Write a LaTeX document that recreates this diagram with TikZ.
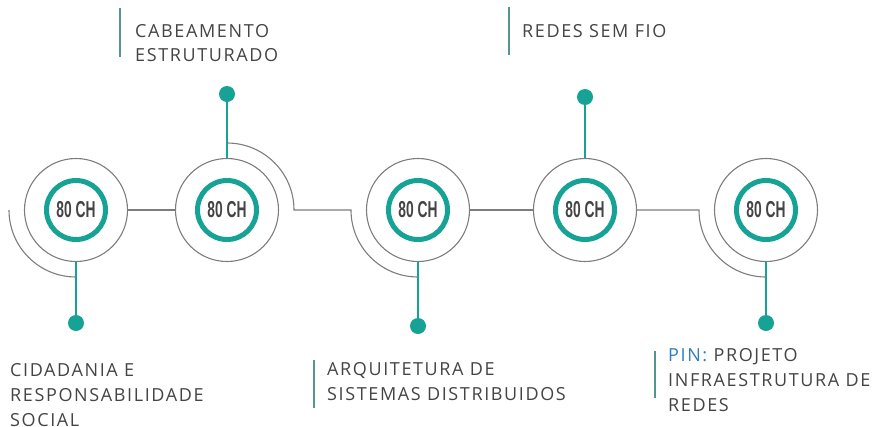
\documentclass[tikz,border=0pt]{standalone}
\usepackage{fontspec}
\setmainfont[LetterSpace=9]{Open Sans}
\newfontfamily\chfont[FakeStretch=0.6]{Liberation Sans}
\usetikzlibrary{calc}
\definecolor{ringteal}{RGB}{22,163,150}
\definecolor{barteal}{RGB}{84,150,142}
\definecolor{linegray}{RGB}{125,125,125}
\definecolor{textgray}{RGB}{68,68,68}
\definecolor{pinblue}{RGB}{46,125,195}

\begin{document}
\begin{tikzpicture}[x=1pt,y=1pt,
    outer/.style={circle,draw=linegray,line width=1.1pt,minimum size=103pt,inner sep=0pt},
    ring/.style={circle,draw=ringteal,line width=5pt,minimum size=59pt,inner sep=0pt,
      text=textgray,font=\chfont\bfseries\fontsize{23}{23}\selectfont},
    dot/.style={circle,fill=ringteal,minimum size=16pt,inner sep=0pt},
    stem/.style={ringteal,line width=2.4pt},
    link/.style={linegray,line width=1.1pt},
    bar/.style={barteal,line width=2.5pt},
    coursetext/.style={anchor=base west,align=left,inner sep=0pt,text=textgray,
      font=\fontsize{18}{24.8}\selectfont}]
  \useasboundingbox (0,0) rectangle (878,-426);
  % circles
  \foreach \i/\x in {1/76,2/227,3/418,4/585,5/766}{
    \node[outer] (c\i) at (\x,-210) {};
    \node[ring] (r\i) at (c\i) {80 CH};
  }
  % dots
  \node[dot] (d1) at (76,-323) {};
  \node[dot] (d2) at (227,-94) {};
  \node[dot] (d3) at (418,-326) {};
  \node[dot] (d4) at (585,-97) {};
  \node[dot] (d5) at (766,-323) {};
  \draw[stem] (c1) -- (d1);
  \draw[stem] (c2) -- (d2);
  \draw[stem] (c3) -- (d3);
  \draw[stem] (c4) -- (d4);
  \draw[stem] (c5) -- (d5);
  % connectors
  \draw[link] (c1) -- (c2);
  \draw[link] ($(c1)+(-67,0)$) arc[start angle=180,end angle=270,radius=67pt];
  \draw[link] ($(c2)+(0,67)$) arc[start angle=90,end angle=0,radius=67pt]
    -- ($(c3)+(-67,0)$) arc[start angle=180,end angle=270,radius=67pt];
  \draw[link] (c3) -- (c4);
  \draw[link] (c4.east) -- ($(c5)+(-67,0)$) arc[start angle=180,end angle=270,radius=67pt];
  % labels (base = last line)
  \node[coursetext] (t1) at (10,-426.5) {CIDADANIA E\\RESPONSABILIDADE\\SOCIAL};
  \node[coursetext] (t2) at (135,-61.8) {CABEAMENTO\\ESTRUTURADO};
  \node[coursetext] (t3) at (327,-400.5) {ARQUITETURA DE\\SISTEMAS DISTRIBUIDOS};
  \node[coursetext] (t4) at (522,-37) {REDES SEM FIO};
  \node[coursetext] (t5) at (668,-411) {\textcolor{pinblue}{PIN:} PROJETO\\INFRAESTRUTURA DE\\REDES};
  \draw[bar] (120,-8) -- (120,-57);
  \draw[bar] (314,-360) -- (314,-408);
  \draw[bar] (509,-7) -- (509,-55);
  \draw[bar] (655,-351) -- (655,-398);
\end{tikzpicture}
\end{document}
